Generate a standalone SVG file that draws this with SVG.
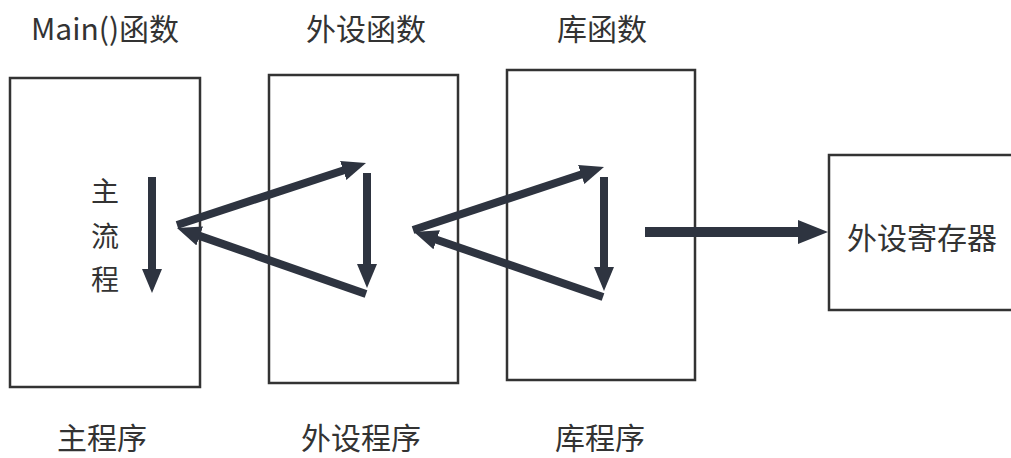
<svg xmlns="http://www.w3.org/2000/svg" width="1011" height="458" viewBox="0 0 1011 458">
<style>
.box{fill:#fff;stroke:#333;stroke-width:2.5}
.t{font-family:"Noto Sans CJK SC","Noto Sans",sans-serif;font-size:30px;fill:#333;text-anchor:middle;dominant-baseline:central}
.v{font-size:28px}
.a{stroke:#2e3440;stroke-width:8;fill:none}
.b{stroke:#2e3440;stroke-width:10;fill:none}
</style>
<defs>
<marker id="ah" markerUnits="userSpaceOnUse" markerWidth="24" markerHeight="20" refX="4" refY="10" orient="auto">
<path d="M0,0 L24,10 L0,20 z" fill="#2e3440"/>
</marker>
<marker id="ahb" markerUnits="userSpaceOnUse" markerWidth="30" markerHeight="24" refX="4" refY="12" orient="auto">
<path d="M0,0 L30,12 L0,24 z" fill="#2e3440"/>
</marker>
</defs>
<rect width="1011" height="458" fill="#fff"/>
<g id="main">
<rect class="box" x="10" y="78" width="190" height="309"/>
<text class="t" x="105" y="27">Main()函数</text>
<text class="t" x="102" y="436">主程序</text>
<text class="t v" x="105" y="190">主</text>
<text class="t v" x="105" y="235">流</text>
<text class="t v" x="105" y="278">程</text>
</g>
<g id="periph">
<rect class="box" x="269" y="75" width="189" height="308"/>
<text class="t" x="366" y="27">外设函数</text>
<text class="t" x="361" y="436">外设程序</text>
</g>
<g id="lib">
<rect class="box" x="507" y="70" width="188" height="310"/>
<text class="t" x="602" y="27">库函数</text>
<text class="t" x="600" y="436">库程序</text>
</g>
<g id="reg">
<rect class="box" x="829" y="155" width="190" height="155"/>
<text class="t" x="922" y="236">外设寄存器</text>
</g>
<g id="connectors">
<line class="a" x1="152" y1="177" x2="152" y2="273" marker-end="url(#ah)"/>
<line class="a" x1="177" y1="225" x2="347" y2="169.2" marker-end="url(#ah)"/>
<line class="a" x1="367" y1="173" x2="367" y2="268" marker-end="url(#ah)"/>
<line class="a" x1="366" y1="294" x2="195.9" y2="234.6" marker-end="url(#ah)"/>
<line class="a" x1="413" y1="230" x2="585" y2="173.3" marker-end="url(#ah)"/>
<line class="a" x1="604" y1="177" x2="604" y2="271" marker-end="url(#ah)"/>
<line class="a" x1="603" y1="297" x2="432.9" y2="238.5" marker-end="url(#ah)"/>
<line class="b" x1="645" y1="232" x2="802" y2="232" marker-end="url(#ahb)"/>
</g>
</svg>
